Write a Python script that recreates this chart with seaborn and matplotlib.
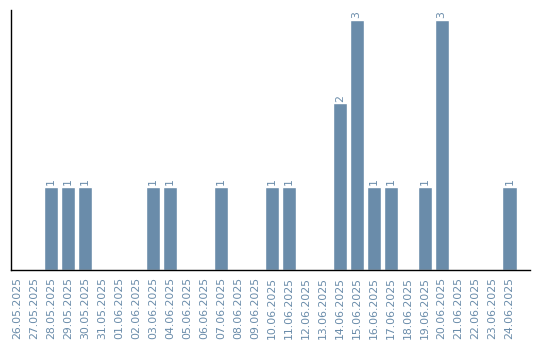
import matplotlib
matplotlib.use("Agg")
import matplotlib.pyplot as plt
import seaborn as sns
import pandas as pd

dates = ["26.05.2025", "27.05.2025", "28.05.2025", "29.05.2025", "30.05.2025",
         "31.05.2025", "01.06.2025", "02.06.2025", "03.06.2025", "04.06.2025",
         "05.06.2025", "06.06.2025", "07.06.2025", "08.06.2025", "09.06.2025",
         "10.06.2025", "11.06.2025", "12.06.2025", "13.06.2025", "14.06.2025",
         "15.06.2025", "16.06.2025", "17.06.2025", "18.06.2025", "19.06.2025",
         "20.06.2025", "21.06.2025", "22.06.2025", "23.06.2025", "24.06.2025"]
counts = [0, 0, 1, 1, 1, 0, 0, 0, 1, 1, 0, 0, 1, 0, 0,
          1, 1, 0, 0, 2, 3, 1, 1, 0, 1, 3, 0, 0, 0, 1]

sns.set_style("white")
plt.rcParams['font.family'] = ['DejaVu Sans']

color = "#6a8caa"
df = pd.DataFrame({"date": dates, "count": counts})

fig = plt.figure(figsize=(5.4, 3.4), dpi=100)
ax = fig.add_axes([11/540, 70/340, 519/540, 260/340])
sns.barplot(data=df, x="date", y="count", color=color, saturation=1, width=0.84, ax=ax)

for i, v in enumerate(counts):
    if v > 0:
        ax.text(i, v + 0.02, str(v), rotation=90, ha="center", va="bottom",
                fontsize=7.8, color=color)

ax.set_xlim(-0.35, 30.2)
ax.set_ylim(0, 3.12)
ax.set_xlabel("")
ax.set_ylabel("")
ax.set_yticks([])
ax.tick_params(axis="x", length=0, pad=5, labelsize=7.8, labelcolor=color)
plt.setp(ax.get_xticklabels(), rotation=90)
for s in ["top", "right"]:
    ax.spines[s].set_visible(False)
for s in ["left", "bottom"]:
    ax.spines[s].set_color("black")
    ax.spines[s].set_linewidth(1.0)

fig.savefig("out.png", dpi=100)
